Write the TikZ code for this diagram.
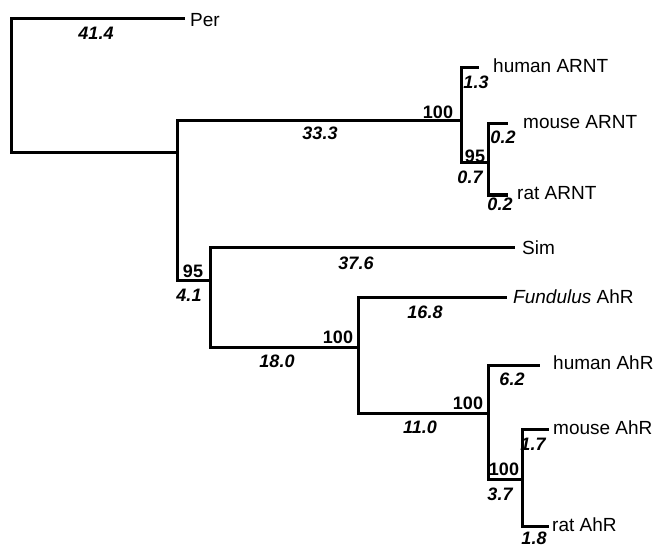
\documentclass[tikz,border=0pt]{standalone}
\usepackage{fontspec}
\setmainfont{Liberation Sans}
\begin{document}
\begin{tikzpicture}[x=1pt,y=-1pt,
  br/.style={line width=3pt,line cap=rect,line join=miter},
  leaf/.style={anchor=west,inner sep=0pt,font=\fontsize{19}{22}\selectfont},
  blen/.style={inner sep=0pt,font=\fontsize{18}{21}\selectfont\bfseries\itshape},
  boot/.style={inner sep=0pt,font=\fontsize{18}{21}\selectfont\bfseries}]
\useasboundingbox (0,0) rectangle (658,548);
% tree coordinates
\coordinate (r1) at (11,19); \coordinate (r2) at (11,153);
\coordinate (per) at (183,19);
\coordinate (a1) at (177,121); \coordinate (a0) at (177,153); \coordinate (a2) at (177,280);
\coordinate (b1) at (461,68); \coordinate (b0) at (461,121); \coordinate (b2) at (461,163);
\coordinate (hARNT) at (477,68);
\coordinate (c1) at (488,124); \coordinate (c0) at (488,163); \coordinate (c2) at (488,195);
\coordinate (mARNT) at (506,124); \coordinate (rARNT) at (506,195);
\coordinate (d1) at (210,247); \coordinate (d0) at (210,280); \coordinate (d2) at (210,347);
\coordinate (sim) at (513,247);
\coordinate (e1) at (358,297); \coordinate (e0) at (358,347); \coordinate (e2) at (358,413);
\coordinate (fun) at (505,297);
\coordinate (f1) at (488,365); \coordinate (f0) at (488,413); \coordinate (f2) at (488,479);
\coordinate (hAhR) at (538,365);
\coordinate (g1) at (522,429); \coordinate (g0) at (522,479); \coordinate (g2) at (522,526);
\coordinate (mAhR) at (547,429); \coordinate (rAhR) at (547,526);
% branches
\draw[br] (per) -- (r1) -- (r2) -- (a0);
\draw[br] (b0) -- (a1) -- (a2) -- (d0);
\draw[br] (hARNT) -- (b1) -- (b2) -- (c0);
\draw[br] (mARNT) -- (c1) -- (c2) -- (rARNT);
\draw[br] (sim) -- (d1) -- (d2) -- (e0);
\draw[br] (fun) -- (e1) -- (e2) -- (f0);
\draw[br] (hAhR) -- (f1) -- (f2) -- (g0);
\draw[br] (mAhR) -- (g1) -- (g2) -- (rAhR);
% leaf labels
\node[leaf] (tPer) at (190,20) {Per};
\node[leaf] (thARNT) at (493,66) {human ARNT};
\node[leaf] (tmARNT) at (523,122) {mouse ARNT};
\node[leaf] (trARNT) at (517,193) {rat ARNT};
\node[leaf] (tSim) at (522,248) {Sim};
\node[leaf] (tFun) at (513,297) {\textit{Fundulus} AhR};
\node[leaf] (thAhR) at (553,363) {human AhR};
\node[leaf] (tmAhR) at (553,428) {mouse AhR};
\node[leaf] (trAhR) at (552,525) {rat AhR};
% branch lengths
\node[blen] (l1) at (96,33) {41.4};
\node[blen] (l2) at (320,133) {33.3};
\node[blen] (l3) at (476,82) {1.3};
\node[blen] (l4) at (503,137) {0.2};
\node[blen] (l5) at (470,177) {0.7};
\node[blen] (l6) at (500,204) {0.2};
\node[blen] (l7) at (356,263) {37.6};
\node[blen] (l8) at (189,295) {4.1};
\node[blen] (l9) at (277,361) {18.0};
\node[blen] (l10) at (425,312) {16.8};
\node[blen] (l11) at (420,427) {11.0};
\node[blen] (l12) at (512,379) {6.2};
\node[blen] (l13) at (533,444) {1.7};
\node[blen] (l14) at (500,494) {3.7};
\node[blen] (l15) at (534,538) {1.8};
% bootstrap values
\node[boot] (s1) at (438,112) {100};
\node[boot] (s2) at (475,156) {95};
\node[boot] (s3) at (193,271) {95};
\node[boot] (s4) at (338,337) {100};
\node[boot] (s5) at (468,403) {100};
\node[boot] (s6) at (504,469) {100};
\end{tikzpicture}
\end{document}
